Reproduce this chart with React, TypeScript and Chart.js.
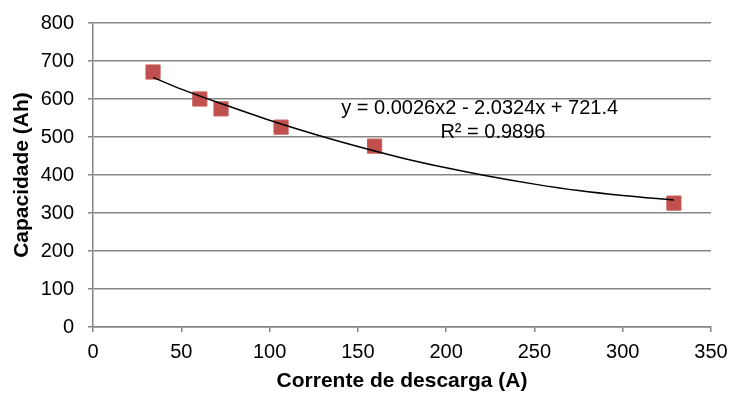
import React, { useEffect, useRef } from "react";
import { Chart, registerables } from "chart.js";

Chart.register(...registerables);

const currentA = [34, 60.5, 72.5, 106.5, 159.5, 329];
const capacityAh = [671, 600, 574, 526, 476, 326];

const trendX = [34, 50, 75, 100, 125, 150, 175, 200, 225, 250, 275, 300, 329];
const trendY = [657, 626, 584, 544, 508, 475, 445, 419, 396, 376, 359, 346, 334];

const equationLine = "y = 0.0026x2 - 2.0324x + 721.4";
const r2Line = "R² = 0.9896";

const xTitle = "Corrente de descarga (A)";
const yTitle = "Capacidade (Ah)";

const FONT = "'Liberation Sans', Arial, sans-serif";

const labelPlugin = {
  id: "trendLabel",
  afterDatasetsDraw(chart: any) {
    const { ctx, scales } = chart;
    const x = scales.x;
    const y = scales.y;
    ctx.save();
    ctx.fillStyle = "#000";
    ctx.font = `20px ${FONT}`;
    ctx.textAlign = "center";
    ctx.textBaseline = "middle";
    ctx.fillText(equationLine, x.getPixelForValue(219), y.getPixelForValue(574));
    ctx.fillText(r2Line, x.getPixelForValue(226.5), y.getPixelForValue(512));
    ctx.restore();
  },
};

export default function App() {
  const ref = useRef<HTMLCanvasElement | null>(null);
  useEffect(() => {
    if (!ref.current) return;
    const chart = new Chart(ref.current, {
      type: "scatter",
      data: {
        datasets: [
          {
            label: "trend",
            data: trendX.map((v, i) => ({ x: v, y: trendY[i] })),
            showLine: true,
            borderColor: "#000",
            borderWidth: 1.5,
            pointRadius: 0,
            tension: 0.4,
            cubicInterpolationMode: "monotone",
            order: 0,
          } as any,
          {
            label: "data",
            data: currentA.map((v, i) => ({ x: v, y: capacityAh[i] })),
            pointStyle: "rect",
            pointRadius: 10,
            backgroundColor: "#C0504D",
            borderColor: "#C65A57",
            borderWidth: 1,
            order: 1,
          },
        ],
      },
      options: {
        animation: false,
        responsive: false,
        layout: { padding: { top: 23, right: 22, left: 0, bottom: 0 } },
        plugins: { legend: { display: false }, tooltip: { enabled: false } },
        scales: {
          x: {
            type: "linear",
            min: 0,
            max: 350,
            ticks: { stepSize: 50, color: "#000", font: { family: FONT, size: 20 }, padding: 8 },
            grid: { display: true, drawOnChartArea: false, drawTicks: true, tickLength: 5, color: "#868686", lineWidth: 1.5 },
            border: { color: "#868686", width: 1.5 },
            title: { display: true, text: xTitle, color: "#000", font: { family: FONT, size: 21, weight: "bold" }, padding: { top: 2, bottom: 0 } },
            afterFit: (s: any) => {
              s.height = 67;
              s.paddingLeft = 0;
              s.paddingRight = 0;
            },
          },
          y: {
            min: 0,
            max: 800,
            ticks: { stepSize: 100, color: "#000", font: { family: FONT, size: 20 }, padding: 14 },
            grid: { color: "#868686", lineWidth: 1.5, tickLength: 5 },
            border: { color: "#868686", width: 1.5 },
            title: { display: true, text: yTitle, color: "#000", font: { family: FONT, size: 21, weight: "bold" }, padding: { top: 10, bottom: 2 } },
            afterFit: (s: any) => {
              s.width = 93;
              s.paddingTop = 0;
              s.paddingBottom = 0;
            },
          },
        },
      },
      plugins: [labelPlugin],
    });
    return () => chart.destroy();
  }, []);
  return (
    <div style={{ position: "absolute", left: 0, top: 0, width: 733, height: 394, background: "#fff" }}>
      <canvas ref={ref} width={733} height={394} />
    </div>
  );
}
